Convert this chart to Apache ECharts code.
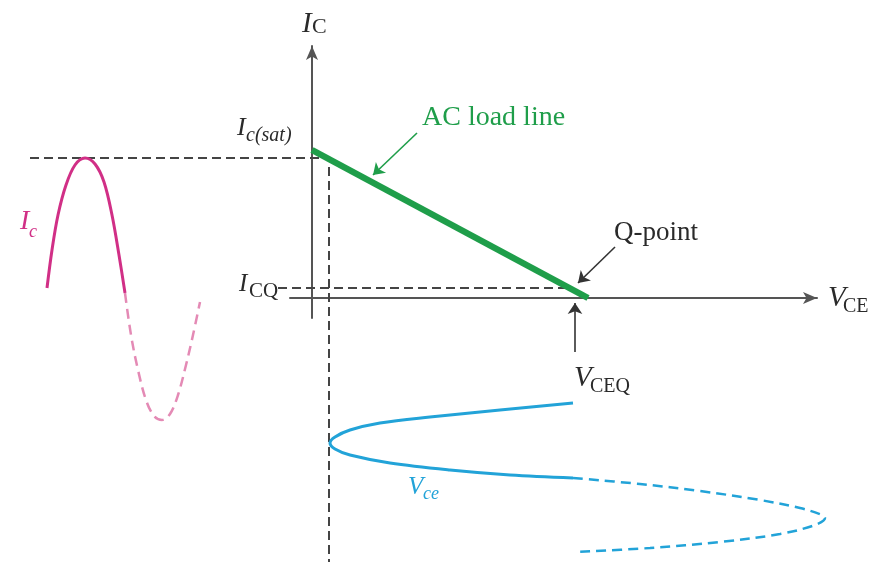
<!DOCTYPE html>
<html>
<head>
<meta charset="utf-8">
<style>
  html, body { margin: 0; padding: 0; background: #fff; }
  #chart { width: 875px; height: 562px; }
</style>
<script src="https://cdn.jsdelivr.net/npm/echarts@6/dist/echarts.min.js"></script>
</head>
<body>
<div id="chart"></div>
<script>
// diagram units (1 unit ~ 10px), origin where the I_C and V_CE axes cross
const loadLine = [[0, 14.8], [27.6, 0]];
const icSatGuide = [[-28.2, 14.0], [1.7, 14.0], [1.7, -26.6]];
const icqGuide = [[-3.4, 1.0], [26.0, 1.0]];

// collector current wave (left), solid part then clipped/dashed part
const icSolid = [[-26.5, 1.0], [-26.0, 4.8], [-25.4, 8.3], [-24.6, 11.3], [-23.7, 13.3], [-22.7, 14.0],
  [-21.7, 13.4], [-20.8, 11.6], [-20.0, 8.3], [-19.3, 4.3], [-18.7, 0.5]];
const icDashed = [[-18.7, 0.5], [-18.1, -3.7], [-17.4, -7.2], [-16.6, -10.2], [-15.8, -11.8], [-15.0, -12.2],
  [-14.2, -11.6], [-13.4, -9.7], [-12.6, -6.7], [-11.9, -3.7], [-11.2, -0.4]];

// collector-emitter voltage wave (below), runs sideways
const vceSolid = [[26.1, -10.5], [18.8, -11.2], [11.8, -11.9], [6.8, -12.5], [3.8, -13.2], [2.3, -13.9],
  [1.8, -14.5], [2.3, -15.1], [3.8, -15.7], [7.8, -16.5], [13.8, -17.2], [19.8, -17.7], [26.1, -18.0]];
const vceDashed = [[26.1, -18.0], [32.8, -18.6], [38.8, -19.3], [44.8, -20.2], [48.8, -21.0], [51.0, -21.7],
  [51.3, -22.0], [50.3, -22.7], [46.8, -23.6], [40.8, -24.4], [33.8, -25.0], [26.3, -25.4]];

// pointer arrows [from, to]
const acPointer = [[10.5, 16.5], [6.1, 12.3]];
const qPointer = [[30.3, 5.1], [26.6, 1.5]];
const vceqPointer = [[26.3, -5.4], [26.3, -0.5]];

const GREEN = '#1f9e4a';
const MAGENTA = '#d12f86';
const MAGENTA_LIGHT = '#e48ab5';
const BLUE = '#22a3d8';
const INK = '#2a2a2a';
const SERIF = '"Liberation Serif", "DejaVu Serif", serif';

const chart = echarts.init(document.getElementById('chart'));

function lineSeries(data, color, width, dash, z) {
  return {
    type: 'line',
    data: data,
    symbol: 'none',
    smooth: false,
    silent: true,
    z: z || 2,
    lineStyle: { color: color, width: width, type: dash || 'solid' }
  };
}

function curveSeries(data, color, width, dash) {
  const s = lineSeries(data, color, width, dash, 3);
  s.smooth = 0.35;
  return s;
}

// label pieces: text, left x, middle y, size, italic, colour
const labelPieces = [
  ['I', 302, 24, 29, true, INK], ['C', 312, 27, 22, false, INK],
  ['I', 237, 128, 26, true, INK], ['c(sat)', 246, 136, 20, true, INK],
  ['I', 239, 284, 25, true, INK], ['CQ', 249, 291, 21, false, INK],
  ['V', 828, 298, 29, true, INK], ['CE', 843, 307, 20, false, INK],
  ['V', 574, 378, 29, true, INK], ['CEQ', 590, 387, 20, false, INK],
  ['Q-point', 614, 233, 27, false, INK],
  ['AC load line', 422, 118, 28, false, GREEN],
  ['I', 20, 222, 28, true, MAGENTA], ['c', 29, 232, 18, true, MAGENTA],
  ['V', 408, 487, 25, true, BLUE], ['ce', 423, 494, 18, true, BLUE]
];

const graphics = labelPieces.map(p => ({
  type: 'text',
  x: p[1],
  y: p[2],
  silent: true,
  style: {
    text: p[0],
    font: (p[4] ? 'italic ' : '') + p[3] + 'px ' + SERIF,
    fill: p[5],
    textAlign: 'left',
    textVerticalAlign: 'middle',
    align: 'left',
    verticalAlign: 'middle'
  }
}));

const hiddenAxis = {
  type: 'value',
  gridIndex: 0,
  show: false,
  splitLine: { show: false }
};

function visibleAxis(min, max) {
  return {
    type: 'value',
    gridIndex: 1,
    min: min,
    max: max,
    axisLine: { show: true, onZero: true, symbol: ['none', 'arrow'], symbolSize: [9, 14],
      lineStyle: { color: '#555', width: 2 } },
    axisTick: { show: false },
    axisLabel: { show: false },
    splitLine: { show: false }
  };
}

const option = {
  animation: false,
  backgroundColor: '#fff',
  grid: [
    { left: 0, right: 0, top: 0, bottom: 0 },      // drawing plane, whole picture
    { left: 290, right: 58, top: 46, bottom: 244 } // the visible I_C / V_CE axes
  ],
  xAxis: [
    Object.assign({}, hiddenAxis, { min: -31.2, max: 56.3 }),
    visibleAxis(-2.2, 50.5)
  ],
  yAxis: [
    Object.assign({}, hiddenAxis, { min: -26.4, max: 29.8 }),
    visibleAxis(-2, 25.2)
  ],
  graphic: graphics,
  series: [
    lineSeries(icSatGuide, '#444', 2, [9, 5]),
    lineSeries(icqGuide, '#444', 2, [9, 5]),
    lineSeries(loadLine, GREEN, 6.5, 'solid', 5),
    curveSeries(icSolid, MAGENTA, 3),
    curveSeries(icDashed, MAGENTA_LIGHT, 2.5, [10, 6]),
    curveSeries(vceSolid, BLUE, 3),
    curveSeries(vceDashed, BLUE, 2.5, [10, 6]),
    {
      type: 'lines',
      coordinateSystem: 'cartesian2d',
      silent: true,
      symbol: ['none', 'arrow'],
      symbolSize: 11,
      z: 6,
      lineStyle: { width: 1.6, color: '#333', opacity: 1 },
      data: [
        { coords: acPointer, lineStyle: { color: GREEN } },
        { coords: qPointer },
        { coords: vceqPointer }
      ]
    }
  ]
};

chart.setOption(option);
</script>
</body>
</html>
